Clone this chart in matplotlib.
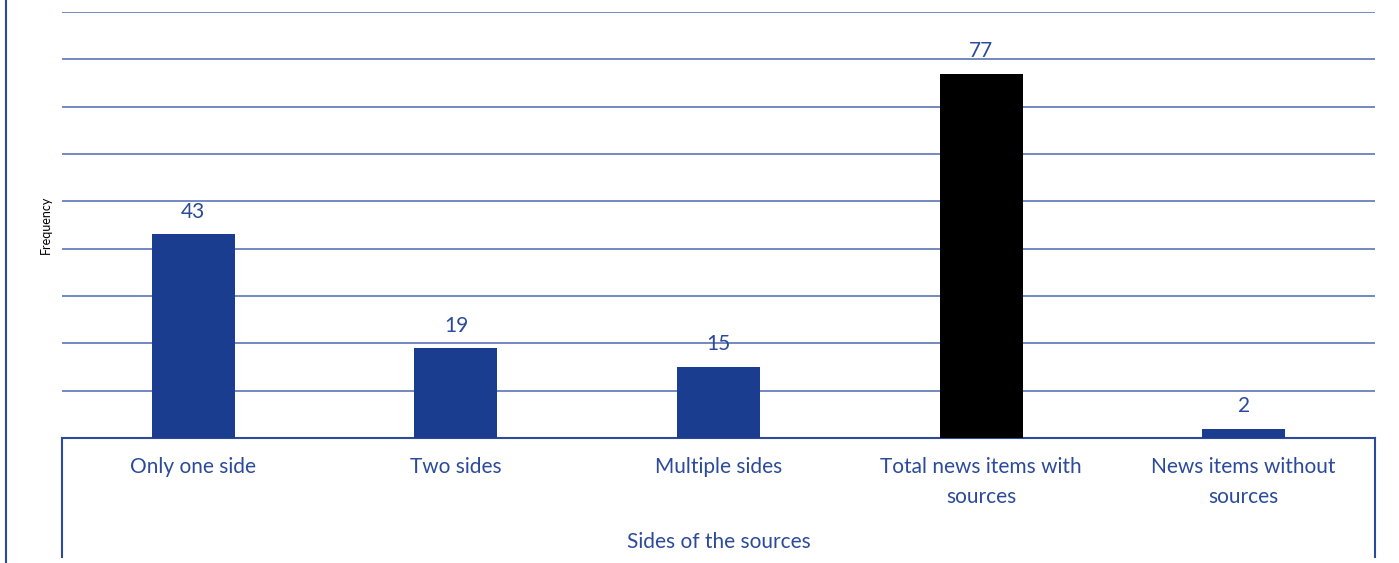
import matplotlib.pyplot as plt
from matplotlib.lines import Line2D

categories = ['Only one side', 'Two sides', 'Multiple sides',
              'Total news items with\nsources', 'News items without\nsources']
values = [43, 19, 15, 77, 2]
bar_colors = ['#1a3d8f', '#1a3d8f', '#1a3d8f', '#000000', '#1a3d8f']

blue = '#2b4a9b'
plt.rcParams['font.family'] = ['Lato', 'DejaVu Sans']

W, H = 1399, 563
fig = plt.figure(figsize=(W / 100, H / 100), dpi=100)
x0, x1, yb, yt = 62, 1375, 438, 12
ax = fig.add_axes([x0 / W, (H - yb) / H, (x1 - x0) / W, (yb - yt) / H])

x = range(len(categories))
ax.bar(x, values, width=0.316, color=bar_colors, zorder=3)
for i, v in zip(x, values):
    ax.annotate(str(v), (i, v), xytext=(0, 9), textcoords='offset points',
                ha='center', va='bottom', fontsize=15, color=blue)

ax.set_xlim(-0.5, len(categories) - 0.5)
ax.set_ylim(0, 90)
ax.set_yticks(range(10, 91, 10))
ax.yaxis.grid(True, color='#4d68b0', linewidth=1.1)
ax.set_yticklabels([])
ax.tick_params(left=False, bottom=False, labelbottom=False)
for s in ['top', 'right', 'left']:
    ax.spines[s].set_visible(False)
ax.spines['bottom'].set_color(blue)
ax.spines['bottom'].set_linewidth(1.5)

# category labels sit in a box under the axis
for i, c in enumerate(categories):
    fx = (x0 + (i + 0.5) * (x1 - x0) / len(categories)) / W
    fig.text(fx, (H - 457) / H, c, ha='center', va='top', fontsize=15,
             color=blue, linespacing=1.6)
fig.text((x0 + x1) / 2 / W, (H - 542) / H, 'Sides of the sources',
         ha='center', va='center', fontsize=15, color=blue)
fig.text(46 / W, (H - 225) / H, 'Frequency', rotation=90, ha='center',
         va='center', fontsize=9, color='black')

for px, ytop, ybot in [(x0, yb, 557), (x1, yb, 557), (6, 0, H)]:
    fig.add_artist(Line2D([px / W, px / W], [(H - ybot) / H, (H - ytop) / H],
                          color=blue, linewidth=1.5))

fig.savefig('out.png', dpi=100)
